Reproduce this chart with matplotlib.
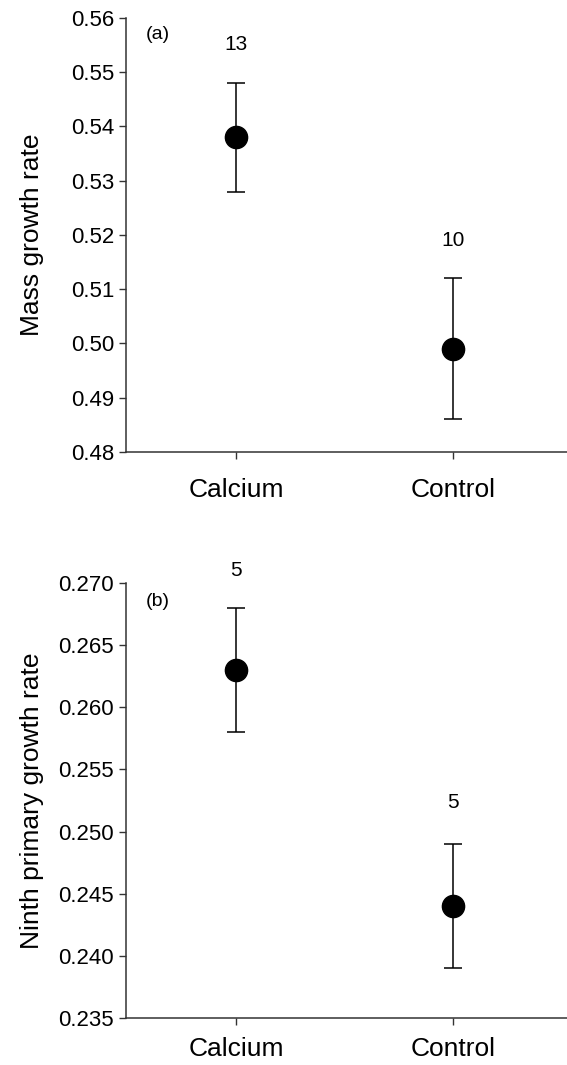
import matplotlib
matplotlib.use("Agg")
import matplotlib.pyplot as plt

plt.rcParams['font.family'] = ['Liberation Sans', 'DejaVu Sans']

# Data
groups = ['Calcium', 'Control']

mass_mean = [0.538, 0.499]
mass_err = [0.010, 0.013]
mass_n = ['13', '10']
mass_n_y = [0.5552, 0.519]

ninth_mean = [0.263, 0.244]
ninth_err = [0.005, 0.005]
ninth_n = ['5', '5']
ninth_n_y = [0.2710, 0.2523]

mass_ticks = [0.48, 0.49, 0.50, 0.51, 0.52, 0.53, 0.54, 0.55, 0.56]
ninth_ticks = [0.235, 0.240, 0.245, 0.250, 0.255, 0.260, 0.265, 0.270]

fig = plt.figure(figsize=(5.67, 10.65), dpi=100)
ax1 = fig.add_axes([0.222, 0.5756, 0.778, 0.4075])
ax2 = fig.add_axes([0.222, 0.0441, 0.778, 0.4085])

xpos = [1, 2]


def draw_panel(ax, means, errs, ns, ny, ticks, fmt, ylabel, tag, tag_y, xpad):
    ax.errorbar(xpos, means, yerr=errs, fmt='o', color='black', ms=16,
                elinewidth=1.1, capsize=6.5, capthick=1.1)
    for x, n, y in zip(xpos, ns, ny):
        ax.text(x, y, n, ha='center', va='center', fontsize=15, clip_on=False)
    ax.set_xlim(0.493, 2.525)
    ax.set_ylim(ticks[0], ticks[-1])
    ax.set_yticks(ticks)
    ax.set_yticklabels([fmt.format(t) for t in ticks])
    ax.set_xticks(xpos)
    ax.set_xticklabels(groups)
    ax.tick_params(axis='y', labelsize=16, length=5, width=1, direction='out', colors='#333333', labelcolor='black')
    ax.tick_params(axis='x', labelsize=19, length=5, width=1, direction='out', pad=xpad, colors='#333333', labelcolor='black')
    ax.spines['top'].set_visible(False)
    ax.spines['right'].set_visible(False)
    for s in ['left', 'bottom']:
        ax.spines[s].set_color('#333333')
        ax.spines[s].set_linewidth(1.1)
    ax.set_ylabel(ylabel, fontsize=19, labelpad=8)
    ax.text(0.073, tag_y, tag, transform=ax.transAxes, ha='center', va='center', fontsize=14)


draw_panel(ax1, mass_mean, mass_err, mass_n, mass_n_y, mass_ticks, '{:.2f}',
           'Mass growth rate', '(a)', 0.963, 14)
draw_panel(ax2, ninth_mean, ninth_err, ninth_n, ninth_n_y, ninth_ticks, '{:.3f}',
           'Ninth primary growth rate', '(b)', 0.957, 9)

ax1.yaxis.set_label_coords(-0.185, 0.5)
ax2.yaxis.set_label_coords(-0.185, 0.5)

fig.savefig('out.png', dpi=100)
